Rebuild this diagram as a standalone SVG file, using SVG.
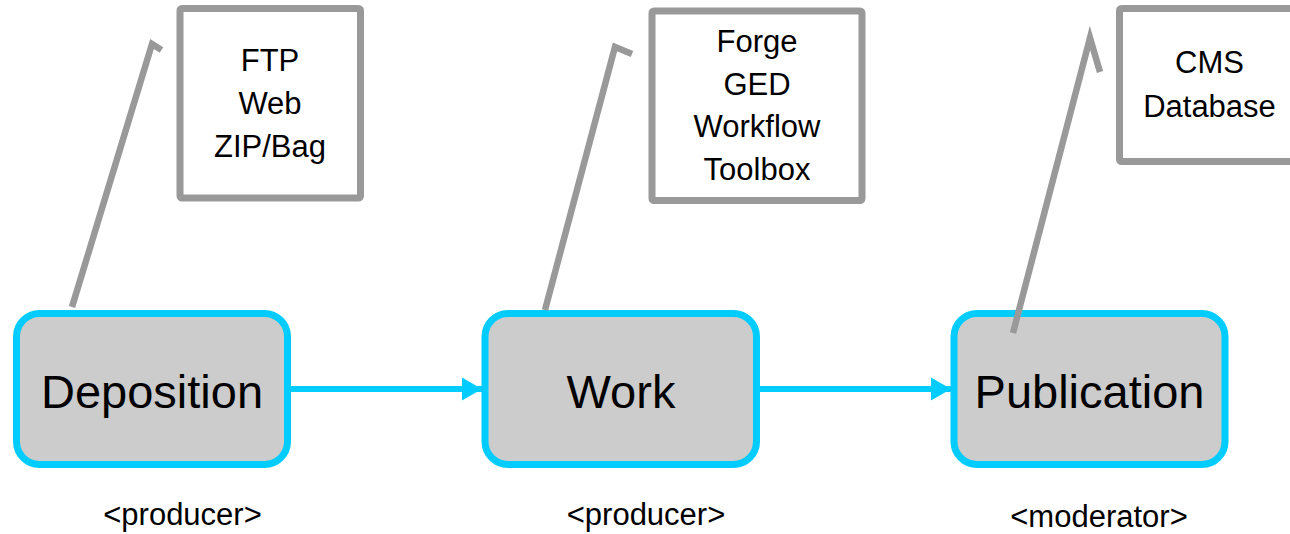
<svg xmlns="http://www.w3.org/2000/svg" width="1290" height="534" viewBox="0 0 1290 534">
  <style>
    .stage { fill: #cccccc; stroke: #00ccff; stroke-width: 7; }
    .stage-label { font-family: "Liberation Sans", Arial, sans-serif; font-size: 47px; fill: #000000; text-anchor: middle; }
    .tools { fill: #ffffff; stroke: #999999; stroke-width: 7; }
    .tools-label { font-family: "Liberation Sans", Arial, sans-serif; font-size: 31px; fill: #000000; text-anchor: middle; }
    .role { font-family: "Liberation Sans", Arial, sans-serif; font-size: 31px; fill: #000000; text-anchor: middle; }
    .flow { fill: none; stroke: #00ccff; stroke-width: 6; }
    .callout { fill: none; stroke: #999999; stroke-width: 6.5; stroke-linejoin: miter; stroke-linecap: butt; }
  </style>
  <defs>
    <marker id="arrow" markerUnits="userSpaceOnUse" markerWidth="22" markerHeight="26" viewBox="0 0 22 26" refX="20" refY="13" orient="auto">
      <path d="M0,1.5 L20,13 L0,24.5 Z" fill="#00ccff"/>
    </marker>
  </defs>

  <rect width="1290" height="534" fill="#ffffff"/>

  <!-- tool boxes -->
  <g id="tools-deposition">
    <rect class="tools" x="180" y="8.5" width="180.5" height="189.5" rx="2"/>
    <text class="tools-label" x="270" y="71">FTP</text>
    <text class="tools-label" x="270" y="114">Web</text>
    <text class="tools-label" x="270" y="157">ZIP/Bag</text>
  </g>
  <g id="tools-work">
    <rect class="tools" x="652" y="11" width="210" height="189.5" rx="2"/>
    <text class="tools-label" x="757" y="52">Forge</text>
    <text class="tools-label" x="757" y="95">GED</text>
    <text class="tools-label" x="757" y="137">Workflow</text>
    <text class="tools-label" x="757" y="180">Toolbox</text>
  </g>
  <g id="tools-publication">
    <rect class="tools" x="1119.5" y="8.5" width="180" height="153" rx="2"/>
    <text class="tools-label" x="1209.5" y="73">CMS</text>
    <text class="tools-label" x="1209.5" y="117">Database</text>
  </g>

  <!-- workflow stages -->
  <g id="deposition">
    <rect class="stage" x="16.5" y="313.5" width="271" height="151" rx="23"/>
    <text class="stage-label" x="152" y="408">Deposition</text>
    <text class="role" x="182.5" y="525">&lt;producer&gt;</text>
  </g>
  <g id="work">
    <rect class="stage" x="485" y="313.5" width="271.5" height="151" rx="23"/>
    <text class="stage-label" x="621" y="408">Work</text>
    <text class="role" x="646" y="525">&lt;producer&gt;</text>
  </g>
  <g id="publication">
    <rect class="stage" x="954" y="313.5" width="271" height="151" rx="23"/>
    <text class="stage-label" x="1089.5" y="408">Publication</text>
    <text class="role" x="1099" y="527">&lt;moderator&gt;</text>
  </g>

  <!-- connectors -->
  <g id="connectors">
    <line class="flow" x1="291" y1="389" x2="482" y2="389" marker-end="url(#arrow)"/>
    <line class="flow" x1="760" y1="389" x2="951" y2="389" marker-end="url(#arrow)"/>
    <polyline class="callout" points="72,307 152,44 161.5,50"/>
    <polyline class="callout" points="545,310 615,47 632,54"/>
    <polyline class="callout" points="1013,333 1090,38 1100,72"/>
  </g>
</svg>
